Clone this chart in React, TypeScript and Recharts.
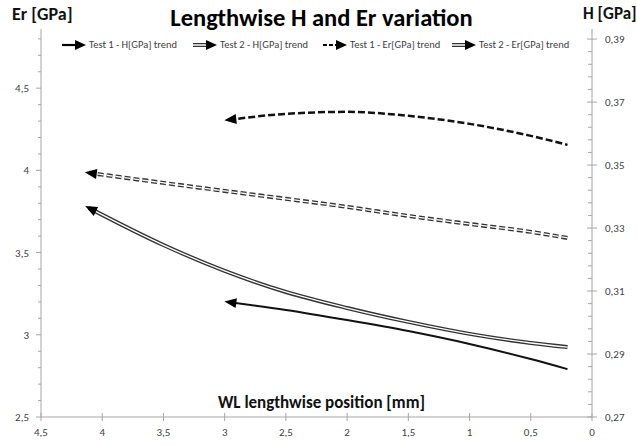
import { Line, LineChart, XAxis, YAxis } from "recharts";

// trend lines (x = WL position in mm)
const h1X = [2.97, 2.5, 2.0, 1.5, 1.0, 0.5, 0.2];
const h1Vals = [0.3065, 0.304, 0.3008, 0.2973, 0.2932, 0.2884, 0.2852];
const h2X = [4.11, 3.5, 3.0, 2.5, 2.0, 1.5, 1.0, 0.5, 0.2];
const h2Vals = [0.3364, 0.3246, 0.3164, 0.3097, 0.3046, 0.3002, 0.2964, 0.2935, 0.2922];
const er1X = [2.97, 2.5, 2.0, 1.5, 1.0, 0.5, 0.2];
const er1Vals = [4.307, 4.344, 4.356, 4.332, 4.283, 4.21, 4.155];
const er2X = [4.11, 3.5, 3.0, 2.5, 2.0, 1.5, 1.0, 0.5, 0.2];
const er2Vals = [3.985, 3.924, 3.875, 3.827, 3.778, 3.723, 3.674, 3.626, 3.589];

const seriesNames = ["Test 1 - H[GPa] trend", "Test 2 - H[GPa] trend", "Test 1 - Er[GPa] trend", "Test 2 - Er[GPa] trend"];

const xTicks = [0, 0.5, 1, 1.5, 2, 2.5, 3, 3.5, 4, 4.5];
const erMajor = [2.5, 3, 3.5, 4, 4.5];
const erMinor = [2.6, 2.7, 2.8, 2.9, 3.1, 3.2, 3.3, 3.4, 3.6, 3.7, 3.8, 3.9, 4.1, 4.2, 4.3, 4.4, 4.6, 4.7, 4.8];
const hMajor = [0.27, 0.29, 0.31, 0.33, 0.35, 0.37, 0.39];
const hMinor = [
  0.274, 0.278, 0.282, 0.286, 0.294, 0.298, 0.302, 0.306, 0.314, 0.318, 0.322, 0.326,
  0.334, 0.338, 0.342, 0.346, 0.354, 0.358, 0.362, 0.366, 0.374, 0.378, 0.382, 0.386,
];

const toData = (xs: number[], vs: number[]) => xs.map((x, i) => ({ x, v: vs[i] }));
const h1Data = toData(h1X, h1Vals);
const h2Data = toData(h2X, h2Vals);
const er1Data = toData(er1X, er1Vals);
const er2Data = toData(er2X, er2Vals);

const FONT = "Carlito, Lato, sans-serif";
const AXIS = "#a6a6a6";
const TXT = "#404040";
const fmt = (v: number) => String(v).replace(".", ",");
const legendLeft = [62, 193, 323, 452];

const arrowDot = (props: any) => {
  const { cx, cy, index, points } = props;
  if (index !== 0 || cx == null) return <g key={`d${index}`} />;
  const next = points && points[1];
  const ang = next ? (Math.atan2(cy - next.y, cx - next.x) * 180) / Math.PI : 180;
  return (
    <g key="arrow" transform={`translate(${cx},${cy}) rotate(${ang})`}>
      <polygon points="4,0 -8,-5 -8,5" fill="#000" />
    </g>
  );
};

const LeftTick = ({ x, y, payload }: any) => {
  const major = erMajor.includes(payload.value);
  return (
    <g>
      <line x1={x - (major ? 5 : 3)} x2={x} y1={y} y2={y} stroke={AXIS} />
      {major && (
        <text x={x - 12} y={y} dy={4} textAnchor="end" fontSize={11} fill={TXT} fontFamily={FONT}>
          {fmt(payload.value)}
        </text>
      )}
    </g>
  );
};

const RightTick = ({ x, y, payload }: any) => {
  const major = hMajor.includes(payload.value);
  return (
    <g>
      <line x1={x - (major ? 5 : 4)} x2={x + (major ? 5 : 0)} y1={y} y2={y} stroke={AXIS} />
      {major && (
        <text x={x + 13} y={y} dy={4} textAnchor="start" fontSize={11} fill={TXT} fontFamily={FONT}>
          {fmt(payload.value)}
        </text>
      )}
    </g>
  );
};

const BottomTick = ({ x, y, payload }: any) => (
  <g>
    <line x1={x} x2={x} y1={y - 4} y2={y + 4} stroke={AXIS} />
    <text x={x} y={y + 19} textAnchor="middle" fontSize={11} fill={TXT} fontFamily={FONT}>
      {fmt(payload.value)}
    </text>
  </g>
);

function LegendIcon({ kind }: { kind: number }) {
  const tri = <polygon points="24,5 13,0 13,10" fill="#000" />;
  const double = kind === 1 || kind === 3;
  return (
    <svg width={25} height={10} style={{ marginRight: 2 }}>
      {!double && (
        <line x1={0} x2={14} y1={5} y2={5} stroke="#000" strokeWidth={2.2} strokeDasharray={kind === 2 ? "4 2" : undefined} />
      )}
      {double && (
        <>
          <line x1={0} x2={14} y1={5} y2={5} stroke="#333" strokeWidth={4} />
          <line x1={0} x2={14} y1={5} y2={5} stroke="#fff" strokeWidth={1.5} />
        </>
      )}
      {tri}
    </svg>
  );
}

export default function App() {
  return (
    <div style={{ position: "absolute", left: 0, top: 0, width: 637, height: 446, background: "#fff", fontFamily: FONT }}>
      <LineChart width={637} height={446} margin={{ top: 29, right: 0, bottom: 0, left: 0 }}>
        <XAxis
          type="number"
          dataKey="x"
          domain={[0, 4.5]}
          reversed
          ticks={xTicks}
          interval={0}
          tick={<BottomTick />}
          tickSize={0}
          tickMargin={0}
          height={29}
          stroke={AXIS}
          allowDataOverflow
        />
        <YAxis
          yAxisId="er"
          orientation="left"
          type="number"
          domain={[2.5, 4.86]}
          ticks={[...erMajor, ...erMinor]}
          interval={0}
          tick={<LeftTick />}
          tickSize={0}
          tickMargin={0}
          width={41}
          stroke={AXIS}
          allowDataOverflow
        />
        <YAxis
          yAxisId="h"
          orientation="right"
          type="number"
          domain={[0.27, 0.3932]}
          ticks={[...hMajor, ...hMinor]}
          interval={0}
          tick={<RightTick />}
          tickSize={0}
          tickMargin={0}
          width={45}
          stroke={AXIS}
          allowDataOverflow
        />

        <Line yAxisId="er" data={er2Data} dataKey="v" type="monotone" stroke="#333" strokeWidth={4} strokeDasharray="6 3" dot={false} activeDot={false} isAnimationActive={false} />
        <Line yAxisId="er" data={er2Data} dataKey="v" type="monotone" stroke="#fff" strokeWidth={1.3} strokeDasharray="6 3" dot={arrowDot} activeDot={false} isAnimationActive={false} />
        <Line yAxisId="er" data={er1Data} dataKey="v" type="monotone" stroke="#111" strokeWidth={2.5} strokeDasharray="7 3" dot={arrowDot} activeDot={false} isAnimationActive={false} />
        <Line yAxisId="h" data={h2Data} dataKey="v" type="monotone" stroke="#333" strokeWidth={4} dot={false} activeDot={false} isAnimationActive={false} />
        <Line yAxisId="h" data={h2Data} dataKey="v" type="monotone" stroke="#fff" strokeWidth={1.3} dot={arrowDot} activeDot={false} isAnimationActive={false} />
        <Line yAxisId="h" data={h1Data} dataKey="v" type="monotone" stroke="#111" strokeWidth={2} dot={arrowDot} activeDot={false} isAnimationActive={false} />
      </LineChart>

      <div style={{ position: "absolute", left: 0, top: 3, width: 643, textAlign: "center", fontSize: 24.5, fontWeight: 700, color: "#000" }}>
        Lengthwise H and Er variation
      </div>
      <div style={{ position: "absolute", left: 12, top: 3, fontSize: 18, fontWeight: 700, color: "#111" }}>Er [GPa]</div>
      <div style={{ position: "absolute", left: 583, top: 3, fontSize: 17, fontWeight: 700, color: "#111" }}>H [GPa]</div>
      <div style={{ position: "absolute", left: 0, top: 392, width: 643, textAlign: "center", fontSize: 17, fontWeight: 700, color: "#111" }}>
        WL lengthwise position [mm]
      </div>

      {seriesNames.map((n, i) => (
        <div
          key={n}
          style={{ position: "absolute", left: legendLeft[i], top: 38, display: "flex", alignItems: "center", fontSize: 10.5, color: TXT, whiteSpace: "nowrap" }}
        >
          <LegendIcon kind={i} />
          <span>{n}</span>
        </div>
      ))}
    </div>
  );
}
